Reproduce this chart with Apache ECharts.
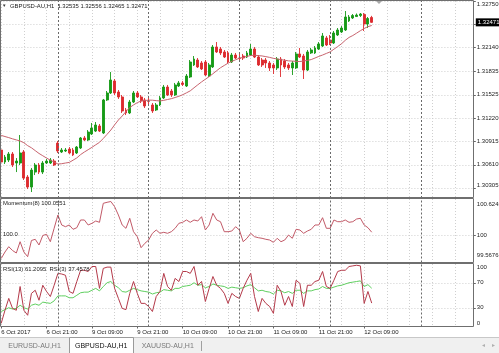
<!DOCTYPE html>
<html><head><meta charset="utf-8">
<script src="https://cdn.jsdelivr.net/npm/echarts@6.0.0/dist/echarts.min.js"></script>
<style>html,body{margin:0;padding:0;background:#fff;}#c{width:499px;height:353px;}</style>
</head><body><div id="c"></div>
<script>
const symbolName = 'GBPUSD-AU,H1';
const headerQuote = [1.32535, 1.32556, 1.32465, 1.32471];
const tabNames = ['EURUSD-AU,H1', 'GBPUSD-AU,H1', 'XAUUSD-AU,H1'];

const opens = [1.30803,1.30646,1.30672,1.30751,1.30633,1.30633,1.30777,1.30450,1.30319,1.30515,
1.30607,1.30515,1.30633,1.30633,1.30659,1.30894,1.30777,1.30790,1.30816,1.30803,
1.30764,1.30829,1.30960,1.30934,1.31012,1.31051,1.31117,1.31025,1.31457,1.31548,
1.31705,1.31561,1.31496,1.31326,1.31287,1.31430,1.31548,1.31496,1.31457,1.31444,
1.31391,1.31326,1.31391,1.31483,1.31626,1.31574,1.31522,1.31639,1.31679,1.31639,
1.31757,1.31914,1.31979,1.31940,1.31953,1.31770,1.31888,1.32149,1.32123,1.32084,
1.32071,1.31953,1.32044,1.32005,1.32031,1.32018,1.32044,1.32123,1.32018,1.31979,
1.31979,1.31940,1.31914,1.31875,1.31992,1.31966,1.31914,1.31875,1.31875,1.32058,
1.32031,1.31848,1.32071,1.32071,1.32123,1.32162,1.32267,1.32240,1.32201,1.32306,
1.32345,1.32371,1.32489,1.32528,1.32547,1.32560,1.32574,1.32449,1.32535];
const closes = [1.30646,1.30711,1.30751,1.30607,1.30659,1.30764,1.30437,1.30319,1.30541,1.30607,
1.30515,1.30633,1.30659,1.30672,1.30607,1.30790,1.30803,1.30803,1.30764,1.30738,
1.30842,1.30960,1.30934,1.31038,1.31090,1.31130,1.31051,1.31457,1.31548,1.31718,
1.31548,1.31496,1.31313,1.31287,1.31430,1.31548,1.31496,1.31444,1.31378,1.31440,
1.31313,1.31391,1.31483,1.31626,1.31522,1.31522,1.31653,1.31679,1.31660,1.31770,
1.31953,1.31992,1.31888,1.31862,1.31783,1.31914,1.32149,1.32084,1.32071,1.32018,
1.31953,1.32044,1.32005,1.32000,1.32005,1.32071,1.32123,1.32018,1.31914,1.31914,
1.31940,1.31875,1.31875,1.31992,1.31914,1.31888,1.31875,1.31940,1.32058,1.32018,
1.31848,1.32084,1.32110,1.32136,1.32188,1.32293,1.32175,1.32201,1.32332,1.32371,
1.32397,1.32541,1.32541,1.32560,1.32567,1.32580,1.32449,1.32521,1.32471];
const lows = [1.30607,1.30620,1.30646,1.30581,1.30515,1.30607,1.30411,1.30293,1.30254,1.30476,
1.30489,1.30489,1.30620,1.30620,1.30594,1.30764,1.30764,1.30777,1.30751,1.30724,
1.30751,1.30816,1.30921,1.30921,1.30999,1.31038,1.31038,1.31012,1.31444,1.31535,
1.31522,1.31470,1.31287,1.31260,1.31273,1.31417,1.31483,1.31417,1.31352,1.31404,
1.31287,1.31313,1.31378,1.31470,1.31509,1.31496,1.31509,1.31626,1.31639,1.31626,
1.31744,1.31901,1.31875,1.31848,1.31770,1.31757,1.31875,1.32071,1.32044,1.32005,
1.31940,1.31940,1.31992,1.31953,1.31979,1.32005,1.32031,1.32005,1.31901,1.31888,
1.31875,1.31835,1.31796,1.31848,1.31757,1.31862,1.31848,1.31783,1.31862,1.32005,
1.31731,1.31835,1.32058,1.32058,1.32110,1.32149,1.32162,1.32175,1.32188,1.32293,
1.32332,1.32358,1.32476,1.32515,1.32541,1.32541,1.32358,1.32397,1.32465];
const highs = [1.30855,1.30738,1.30777,1.30777,1.30698,1.30999,1.30803,1.30476,1.30568,1.30633,
1.30633,1.30659,1.30685,1.30698,1.30685,1.30921,1.30829,1.30829,1.30842,1.30829,
1.30855,1.30973,1.30986,1.31064,1.31156,1.31169,1.31143,1.31470,1.31574,1.31822,
1.31731,1.31587,1.31522,1.31352,1.31457,1.31574,1.31574,1.31522,1.31483,1.31483,
1.31417,1.31417,1.31509,1.31653,1.31653,1.31600,1.31679,1.31705,1.31705,1.31796,
1.31979,1.32031,1.32005,1.31966,1.31979,1.31940,1.32175,1.32214,1.32149,1.32110,
1.32097,1.32071,1.32071,1.32058,1.32058,1.32097,1.32188,1.32149,1.32044,1.32005,
1.32005,1.31966,1.31940,1.32018,1.32018,1.31992,1.31940,1.31966,1.32084,1.32136,
1.32058,1.32110,1.32136,1.32162,1.32214,1.32332,1.32293,1.32306,1.32358,1.32397,
1.32423,1.32619,1.32567,1.32580,1.32587,1.32593,1.32593,1.32541,1.32556];
const maValues = [1.30994,1.30979,1.30965,1.30949,1.30935,1.30921,1.30898,1.30860,1.30832,1.30795,
1.30758,1.30728,1.30698,1.30670,1.30646,1.30620,1.30624,1.30633,1.30641,1.30670,
1.30700,1.30743,1.30777,1.30807,1.30838,1.30871,1.30903,1.30954,1.31008,1.31064,
1.31132,1.31195,1.31247,1.31306,1.31358,1.31392,1.31422,1.31444,1.31450,1.31455,
1.31454,1.31448,1.31444,1.31452,1.31463,1.31474,1.31489,1.31505,1.31525,1.31550,
1.31576,1.31616,1.31655,1.31693,1.31728,1.31762,1.31800,1.31840,1.31878,1.31908,
1.31938,1.31962,1.31982,1.32002,1.32014,1.32026,1.32038,1.32042,1.32036,1.32032,
1.32023,1.32013,1.32001,1.31992,1.31984,1.31976,1.31968,1.31965,1.31962,1.31959,
1.31966,1.31974,1.31985,1.32005,1.32026,1.32044,1.32065,1.32085,1.32120,1.32155,
1.32191,1.32236,1.32274,1.32299,1.32330,1.32362,1.32391,1.32415,1.32430];
const momentumValues = [99.5676,99.6881,99.7864,99.7159,99.6696,99.8791,99.6881,99.6010,99.9014,99.9236,
99.8179,99.9941,100.0163,99.8791,100.1276,100.3742,100.1888,100.1572,100.1888,100.1090,
100.1387,100.2815,100.2815,100.1888,100.2203,100.2629,100.2388,100.5911,100.6097,100.6245,
100.5281,100.3742,100.1888,100.1276,100.3130,100.0645,99.9718,99.7679,99.8494,99.9106,
100.0349,100.0961,100.0349,100.0534,100.0349,100.0645,100.1276,100.2203,100.2388,100.2815,
100.2388,100.2815,100.2629,100.3427,100.0961,100.1888,100.4057,100.2815,100.2500,100.0645,
100.0645,100.0775,100.1572,100.0961,99.8791,99.9422,100.0349,99.9718,99.9533,99.9422,
99.9236,99.9106,99.8680,99.9422,99.8791,99.9106,100.0033,99.9422,100.1090,100.0961,
100.0349,100.0775,100.1090,100.1888,100.1888,100.3241,100.1276,100.1276,100.2815,100.2500,
100.2500,100.2815,100.2388,100.2500,100.3000,100.3130,100.1888,100.1387,100.0551];
const rsi3Values = [5,26,45,29,26,64,26,18,53,58,
42,66,56,48,66,85,84,82,56,53,
72,90,90,88,96,96,61,93,95,95,
61,45,29,27,53,72,53,37,37,32,
24,48,56,85,64,58,77,72,88,88,
85,96,66,72,40,61,80,66,61,53,
37,53,48,45,61,74,85,48,24,45,
37,32,21,66,56,34,48,32,74,69,
32,66,66,72,74,88,64,61,74,88,
90,90,96,97,98,97,37,56,37.4578];
const rsi13Values = [24,27,30,28,29,34,30,28,34,36,
34,39,38,37,41,49,49,49,46,46,
50,54,55,55,58,61,57,64,70,72,
66,62,56,55,58,61,59,57,56,55,
52,54,55,59,58,57,61,61,64,65,
66,70,66,67,62,64,68,66,65,64,
61,63,62,61,62,65,67,62,57,58,
56,55,52,58,57,54,56,53,58,58,
53,57,57,59,60,64,61,61,63,65,
66,68,70,71,72,73,64,67,61.2095];

const priceTicks = [1.30305,1.30610,1.30915,1.31220,1.31525,1.31835,1.32140,1.32445,1.32750];
const priceLabels = [1.30305,1.30610,1.30915,1.31220,1.31525,1.31835,1.32140,1.32750];
const momentumLabels = [99.5676, 100, 100.6245];
const momentumLevels = [100];
const rsiLabels = [0, 30, 70, 100];
const rsiLevels = [30, 70];
const xTickLabels = ['6 Oct 2017','6 Oct 21:00','9 Oct 09:00','9 Oct 21:00','10 Oct 09:00','10 Oct 21:00','11 Oct 09:00','11 Oct 21:00','12 Oct 09:00'];

// hourly categories (weekend skipped), starting one bar before the first drawn bar
const months = ['Jan','Feb','Mar','Apr','May','Jun','Jul','Aug','Sep','Oct','Nov','Dec'];
const times = [];
for (let t = Date.UTC(2017, 9, 6, 8); times.length < 127; t += 3600000) {
  const d = new Date(t); const wd = d.getUTCDay();
  if (wd !== 0 && wd !== 6) times.push(d);
}
const categories = times.map(d => d.getUTCDate() + ' ' + months[d.getUTCMonth()] + ' ' + String(d.getUTCHours()).padStart(2,'0') + ':00');
const daySeparators = [];
times.forEach((d, k) => { if (k > 0 && d.getUTCHours() === 0) daySeparators.push(k); });

const FONT = 'Liberation Sans';
const candleData = opens.map((o, k) => [k + 1, o, closes[k], lows[k], highs[k]]);
const pair = arr => arr.map((v, k) => [k + 1, v]);

const labelInterval = idx => idx >= 1 && (idx - 1) % 12 === 0 && (idx - 1) / 12 < xTickLabels.length;
const gridInterval = idx => idx >= 1 && (idx - 1) % 6 === 0;
const gridLine = {color: '#cfcfcf', type: [1, 2], width: 1};

function makeX(gi, showLabels) {
  return {
    type: 'category', gridIndex: gi, data: categories, boundaryGap: false,
    axisLine: {show: false},
    axisTick: {show: showLabels, interval: labelInterval, length: 2, lineStyle: {color: '#666'}},
    axisLabel: {show: showLabels, interval: labelInterval, formatter: (v, idx) => xTickLabels[(idx - 1) / 12],
      align: 'left', margin: 3, fontSize: 6, fontFamily: FONT, color: '#222'},
    splitLine: {show: true, interval: gridInterval, lineStyle: gridLine}
  };
}
function makeY(gi, min, max, ticks, labels, fmt) {
  return {
    type: 'value', gridIndex: gi, position: 'right', min: min, max: max,
    axisLine: {show: false},
    axisTick: {show: true, customValues: ticks, length: 2, lineStyle: {color: '#666'}},
    axisLabel: {show: true, customValues: labels, formatter: fmt, fontSize: 6, fontFamily: FONT, color: '#222', margin: 3,
      verticalAlignMaxLabel: 'top', verticalAlignMinLabel: 'bottom'},
    splitLine: {show: true, lineStyle: gridLine}
  };
}
const sepLines = daySeparators.map(k => ({xAxis: k}));
const sepMark = {symbol: ['none','none'], silent: true, animation: false, label: {show: false},
  lineStyle: {color: '#6a6a6a', type: [2, 2], width: 1}, data: sepLines};

const gridBase = {left: -2.58, right: 25.2, containLabel: false, outerBoundsMode: 'none'};
const lastClose = closes[closes.length - 1];
const priceMin = 1.30176, priceMax = 1.32750;
const txt = (x, y, s, size, fill, extra) => Object.assign({type: 'text', x: x, y: y, silent: true, z: 120,
  style: {text: s, fontSize: size, fontFamily: FONT, fill: fill, align: 'left', verticalAlign: 'middle'}}, extra || {});
const frame = (y, h) => ({type: 'rect', silent: true, z: 110, shape: {x: 0.5, y: y, width: 473, height: h},
  style: {fill: 'none', stroke: '#6f6f6f', lineWidth: 1}});

const option = {
  animation: false,
  backgroundColor: '#ffffff',
  grid: [
    Object.assign({top: 1, height: 197}, gridBase),
    Object.assign({top: 199, height: 63.5}, gridBase),
    Object.assign({top: 264, height: 62.5}, gridBase)
  ],
  xAxis: [makeX(0, false), makeX(1, false), makeX(2, true)],
  yAxis: [
    makeY(0, priceMin, priceMax, priceTicks, priceLabels, v => v.toFixed(5)),
    makeY(1, 99.4934, 100.6709, momentumLevels, momentumLabels, v => String(v)),
    makeY(2, 0, 100, rsiLevels, rsiLabels, v => String(v)),
    {type: 'value', gridIndex: 0, position: 'right', min: priceMin, max: priceMax, z: 5,
      axisLine: {show: false}, axisTick: {show: false}, splitLine: {show: false},
      axisLabel: {show: true, customValues: [lastClose], formatter: v => v.toFixed(5), fontSize: 6, fontFamily: FONT,
        color: '#ffffff', backgroundColor: '#000000', padding: [1, 3, 1, 2], margin: 2}}
  ],
  series: [
    {type: 'candlestick', xAxisIndex: 0, yAxisIndex: 0, data: candleData, encode: {x: 0, y: [1, 2, 3, 4]},
      barWidth: 2.4, silent: true,
      itemStyle: {color: '#169a16', color0: '#dc2a2e', borderColor: '#169a16', borderColor0: '#dc2a2e', borderWidth: 0.9},
      markLine: sepMark
    },
    {type: 'line', xAxisIndex: 0, yAxisIndex: 0, data: pair(maValues), symbol: 'none', silent: true,
      lineStyle: {color: '#c8646e', width: 1}},
    {type: 'line', xAxisIndex: 1, yAxisIndex: 1, data: pair(momentumValues), symbol: 'none', silent: true,
      lineStyle: {color: '#c25a68', width: 1}, markLine: sepMark},
    {type: 'line', xAxisIndex: 2, yAxisIndex: 2, data: pair(rsi13Values), symbol: 'none', silent: true,
      lineStyle: {color: '#5fcf5f', width: 1}, markLine: sepMark},
    {type: 'line', xAxisIndex: 2, yAxisIndex: 2, data: pair(rsi3Values), symbol: 'none', silent: true,
      lineStyle: {color: '#b43a4a', width: 1}}
  ],
  graphic: [
    frame(0.5, 197), frame(198.5, 64), frame(263.5, 63),
    {type: 'polygon', silent: true, z: 115, shape: {points: [[376, 1], [382, 1], [379, 4]]}, style: {fill: '#a8a8a8'}},
    txt(2, 5.5, '\u25BC', 4.5, '#333'),
    txt(10, 6, symbolName + '  ' + headerQuote.map(v => v.toFixed(5)).join(' '), 5.9, '#222'),
    txt(3, 203.5, 'Momentum(8) ' + momentumValues[momentumValues.length - 1].toFixed(4), 5.9, '#222'),
    txt(3, 234, '100.0', 5.9, '#222'),
    txt(3, 269, 'RSI(13) ' + rsi13Values[rsi13Values.length - 1].toFixed(4) + '  RSI(3) ' + rsi3Values[rsi3Values.length - 1].toFixed(4), 5.9, '#222'),
    {type: 'rect', silent: true, z: 100, shape: {x: 0, y: 337, width: 499, height: 16}, style: {fill: '#f0f0f0'}},
    {type: 'line', silent: true, z: 101, shape: {x1: 0, y1: 337.5, x2: 499, y2: 337.5}, style: {stroke: '#c8c8c8', lineWidth: 1}},
    {type: 'rect', silent: true, z: 102, shape: {x: 69.5, y: 337.5, width: 64, height: 16}, style: {fill: '#ffffff', stroke: '#9a9a9a', lineWidth: 1}},
    txt(8.3, 346, tabNames[0], 7, '#7a7a7a'),
    txt(75, 346, tabNames[1], 7, '#111'),
    txt(141.7, 346, tabNames[2], 7, '#7a7a7a'),
    {type: 'line', silent: true, z: 103, shape: {x1: 201.5, y1: 341, x2: 201.5, y2: 351}, style: {stroke: '#a0a0a0', lineWidth: 1}},
    txt(482, 345.5, '\u25C2', 6, '#b0b0b0'),
    txt(492, 345.5, '\u25B8', 6, '#b0b0b0')
  ]
};
const chart = echarts.init(document.getElementById('c'), null, {renderer: 'canvas'});
chart.setOption(option);
</script></body></html>
